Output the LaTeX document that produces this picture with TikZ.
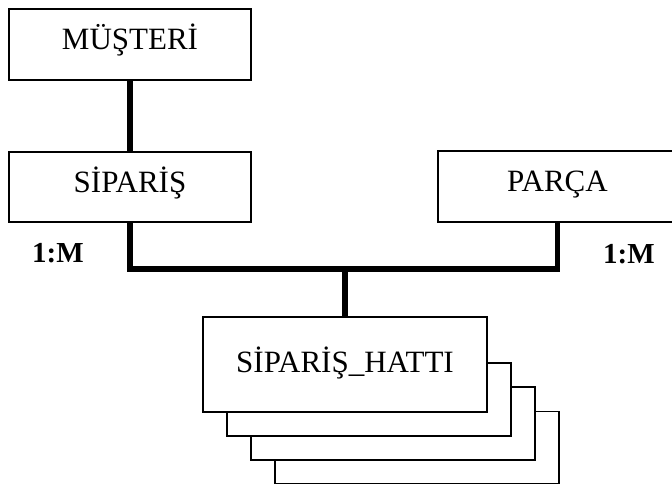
\documentclass[tikz,border=0pt]{standalone}
\usepackage{fontspec}
\setmainfont{Liberation Serif}
\begin{document}
\begin{tikzpicture}[x=1pt,y=-1pt,
  entity/.style={draw=black, line width=1.6pt, fill=white, inner sep=0pt,
    font=\fontsize{31}{31}\selectfont, text height=21pt, text depth=11pt},
  link/.style={draw=black, line width=5.5pt, line join=miter},
  card/.style={font=\fontsize{29}{29}\selectfont\bfseries, anchor=base west, inner sep=0pt}]
  \useasboundingbox (0,0) rectangle (672,485);

  % entities
  \node[entity, minimum width=242pt, minimum height=71pt] (must) at (130,44.5) {MÜŞTERİ};
  \node[entity, minimum width=242pt, minimum height=70pt] (sip) at (130,187) {SİPARİŞ};
  \node[entity, minimum width=239pt, minimum height=71pt] (parca) at (557.5,186.5) {PARÇA};

  % stacked occurrences of the line-item entity, back to front
  \node[entity, minimum width=284pt, minimum height=72pt] (hatti3) at (417,447.5) {};
  \node[entity, minimum width=284pt, minimum height=73pt] (hatti2) at (393,423.5) {};
  \node[entity, minimum width=284pt, minimum height=73pt] (hatti1) at (369,399.5) {};
  \node[entity, minimum width=284pt, minimum height=95pt, text depth=6pt] (hatti) at (345,364.5) {SİPARİŞ\_HATTI};

  % relationships
  \coordinate (j) at (345,269);
  \draw[link] (must.south) -- (sip.north);
  \draw[link] (sip.south) |- (j) -| (parca.south);
  \draw[link] (j) -- (hatti.north);

  % cardinalities
  \node[card] (c1) at (32,262) {1:M};
  \node[card] (c2) at (603,263) {1:M};
\end{tikzpicture}
\end{document}
